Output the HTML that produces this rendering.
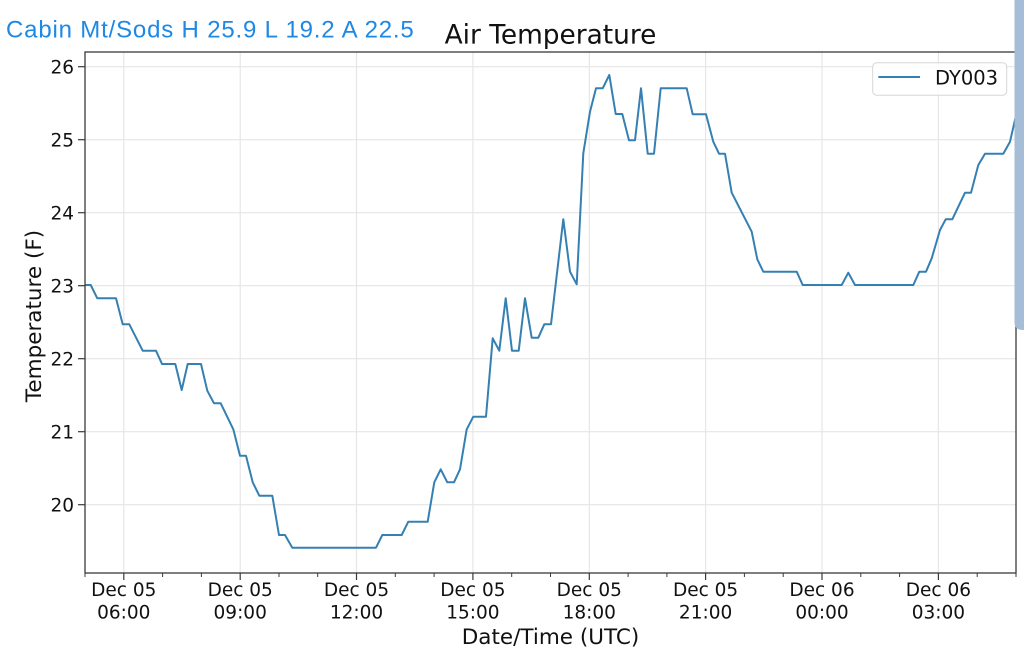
<!DOCTYPE html>
<html>
<head>
<meta charset="utf-8">
<style>
  html, body { margin: 0; padding: 0; background: #ffffff; }
  body { width: 1024px; height: 662px; overflow: hidden; position: relative; }
  svg { display: block; }
</style>
</head>
<body>
<svg width="1024" height="662" viewBox="0 0 1024 662" xmlns="http://www.w3.org/2000/svg">
  <rect x="0" y="0" width="1024" height="662" fill="#ffffff"/>

  <!-- header blue text -->
  <text x="6" y="37.5" font-family="Liberation Sans, Arial, sans-serif" font-size="24" letter-spacing="0.82" fill="#1e88e5">Cabin Mt/Sods H 25.9 L 19.2 A 22.5</text>

  <!-- title -->
  <text x="550.5" y="43.3" text-anchor="middle" font-family="DejaVu Sans, Liberation Sans, sans-serif" font-size="26.4" fill="#111">Air Temperature</text>

  <!-- gridlines -->
  <g stroke="#e6e6e6" stroke-width="1.2">
    <line x1="85" y1="66.7" x2="1016" y2="66.7"/>
    <line x1="85" y1="139.7" x2="1016" y2="139.7"/>
    <line x1="85" y1="212.7" x2="1016" y2="212.7"/>
    <line x1="85" y1="285.7" x2="1016" y2="285.7"/>
    <line x1="85" y1="358.7" x2="1016" y2="358.7"/>
    <line x1="85" y1="431.7" x2="1016" y2="431.7"/>
    <line x1="85" y1="504.7" x2="1016" y2="504.7"/>
    <line x1="123.8" y1="52" x2="123.8" y2="573"/>
    <line x1="240.2" y1="52" x2="240.2" y2="573"/>
    <line x1="356.5" y1="52" x2="356.5" y2="573"/>
    <line x1="472.9" y1="52" x2="472.9" y2="573"/>
    <line x1="589.3" y1="52" x2="589.3" y2="573"/>
    <line x1="705.6" y1="52" x2="705.6" y2="573"/>
    <line x1="822.0" y1="52" x2="822.0" y2="573"/>
    <line x1="938.4" y1="52" x2="938.4" y2="573"/>
  </g>

  <!-- data line -->
  <clipPath id="clip"><rect x="85" y="52" width="931" height="521"/></clipPath>
  <polyline clip-path="url(#clip)" fill="none" stroke="#3580b2" stroke-width="2" stroke-linejoin="round" stroke-linecap="round"
    points="85,285 90.7,285 97.3,298.3 116,298.3 122.7,324.3 129.3,324.3 142.7,350.7 156,350.7 162,364 175.3,364 181.7,390 187.7,364 201,364 207.3,390.7 214,403.3 220.7,403.3 233.3,429.3 240,455.7 246,455.7 252.7,482.3 259.3,495.7 272.3,495.7 279,535 285,535 292.3,547.7 376,547.7 382.3,535 401.7,535 408.3,521.7 427.7,521.7 434.3,482.3 440.7,469.3 447.3,482.3 454,482.3 460,469.3 466.7,429.3 473.3,416.7 486,416.7 492.7,338.3 499.3,350.7 505.7,298.3 512,350.7 518.7,350.7 525,298.3 531.7,337.7 538.3,337.7 544.3,324.3 551,324.3 563.3,219.3 570,271.7 576.7,284.3 583.3,153.3 590,111.7 596,88.3 602.7,88.3 609.3,75 615.7,114 622.3,114 629,140.3 635,140.3 641,88.3 647.7,153.7 654,153.7 660.7,88.3 686.7,88.3 692.7,114.3 706,114.3 713.3,141.7 719,153.7 725,153.7 731.7,192.7 751.7,231.7 757.3,259.3 763.3,271.7 796.7,271.7 802.7,285 841.7,285 848.3,272.7 855,285 913.3,285 919.3,271.7 926,271.7 931.7,258.3 940,230 945.7,219.3 952.3,219.3 965,192.7 971,192.7 978.3,165 985,153.7 1003.3,153.7 1010,141.7 1016.5,113.3"/>

  <!-- spines -->
  <rect x="85" y="52" width="931" height="521" fill="none" stroke="#3a3a3a" stroke-width="1.3"/>

  <!-- y ticks -->
  <g stroke="#3a3a3a" stroke-width="1.2">
    <line x1="78" y1="66.7" x2="85" y2="66.7"/>
    <line x1="78" y1="139.7" x2="85" y2="139.7"/>
    <line x1="78" y1="212.7" x2="85" y2="212.7"/>
    <line x1="78" y1="285.7" x2="85" y2="285.7"/>
    <line x1="78" y1="358.7" x2="85" y2="358.7"/>
    <line x1="78" y1="431.7" x2="85" y2="431.7"/>
    <line x1="78" y1="504.7" x2="85" y2="504.7"/>
  </g>
  <g font-family="DejaVu Sans, Liberation Sans, sans-serif" font-size="18.5" fill="#111" text-anchor="end">
    <text x="74" y="73.5">26</text>
    <text x="74" y="146.5">25</text>
    <text x="74" y="219.5">24</text>
    <text x="74" y="292.5">23</text>
    <text x="74" y="365.5">22</text>
    <text x="74" y="438.5">21</text>
    <text x="74" y="511.5">20</text>
  </g>

  <!-- x ticks: major -->
  <g stroke="#3a3a3a" stroke-width="1.2">
    <line x1="123.8" y1="573" x2="123.8" y2="580"/>
    <line x1="240.2" y1="573" x2="240.2" y2="580"/>
    <line x1="356.5" y1="573" x2="356.5" y2="580"/>
    <line x1="472.9" y1="573" x2="472.9" y2="580"/>
    <line x1="589.3" y1="573" x2="589.3" y2="580"/>
    <line x1="705.6" y1="573" x2="705.6" y2="580"/>
    <line x1="822.0" y1="573" x2="822.0" y2="580"/>
    <line x1="938.4" y1="573" x2="938.4" y2="580"/>
  </g>
  <!-- x ticks: minor -->
  <g stroke="#3a3a3a" stroke-width="1">
    <line x1="85" y1="573" x2="85" y2="577"/>
    <line x1="162.6" y1="573" x2="162.6" y2="577"/>
    <line x1="201.4" y1="573" x2="201.4" y2="577"/>
    <line x1="279.0" y1="573" x2="279.0" y2="577"/>
    <line x1="317.7" y1="573" x2="317.7" y2="577"/>
    <line x1="395.3" y1="573" x2="395.3" y2="577"/>
    <line x1="434.1" y1="573" x2="434.1" y2="577"/>
    <line x1="511.7" y1="573" x2="511.7" y2="577"/>
    <line x1="550.5" y1="573" x2="550.5" y2="577"/>
    <line x1="628.1" y1="573" x2="628.1" y2="577"/>
    <line x1="666.9" y1="573" x2="666.9" y2="577"/>
    <line x1="744.4" y1="573" x2="744.4" y2="577"/>
    <line x1="783.2" y1="573" x2="783.2" y2="577"/>
    <line x1="860.8" y1="573" x2="860.8" y2="577"/>
    <line x1="899.6" y1="573" x2="899.6" y2="577"/>
    <line x1="977.2" y1="573" x2="977.2" y2="577"/>
    <line x1="1016" y1="573" x2="1016" y2="577"/>
  </g>
  <g font-family="DejaVu Sans, Liberation Sans, sans-serif" font-size="18.5" fill="#111" text-anchor="middle">
    <text x="123.8" y="596">Dec 05</text><text x="123.8" y="618.3">06:00</text>
    <text x="240.2" y="596">Dec 05</text><text x="240.2" y="618.3">09:00</text>
    <text x="356.5" y="596">Dec 05</text><text x="356.5" y="618.3">12:00</text>
    <text x="472.9" y="596">Dec 05</text><text x="472.9" y="618.3">15:00</text>
    <text x="589.3" y="596">Dec 05</text><text x="589.3" y="618.3">18:00</text>
    <text x="705.6" y="596">Dec 05</text><text x="705.6" y="618.3">21:00</text>
    <text x="822.0" y="596">Dec 06</text><text x="822.0" y="618.3">00:00</text>
    <text x="938.4" y="596">Dec 06</text><text x="938.4" y="618.3">03:00</text>
  </g>

  <!-- axis labels -->
  <text x="550.5" y="644" text-anchor="middle" font-family="DejaVu Sans, Liberation Sans, sans-serif" font-size="21.5" fill="#111">Date/Time (UTC)</text>
  <text transform="translate(41,316) rotate(-90)" text-anchor="middle" font-family="DejaVu Sans, Liberation Sans, sans-serif" font-size="21.5" fill="#111">Temperature (F)</text>

  <!-- legend -->
  <rect x="872.7" y="62.7" width="134" height="32.5" rx="4" ry="4" fill="#ffffff" fill-opacity="0.85" stroke="#d6d6d6" stroke-width="1"/>
  <line x1="878.3" y1="77" x2="920" y2="77" stroke="#3580b2" stroke-width="2"/>
  <text x="935" y="84.5" font-family="DejaVu Sans, Liberation Sans, sans-serif" font-size="19.5" fill="#111">DY003</text>

  <!-- right-edge overlay bar -->
  <path d="M1014.5,0 H1024 V330 H1022.5 Q1014.5,330 1014.5,322 Z" fill="#a6bdd7"/>
</svg>
</body>
</html>
